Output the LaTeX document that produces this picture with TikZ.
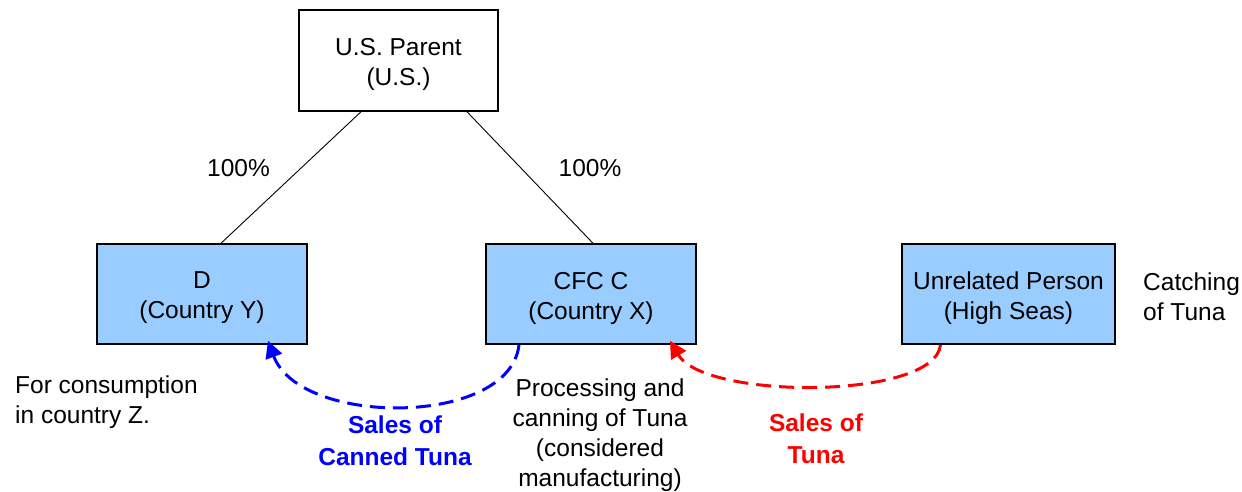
\documentclass[tikz,border=0pt]{standalone}
\usepackage{fontspec}
\setmainfont{Liberation Sans}
\usetikzlibrary{arrows.meta}
\definecolor{boxblue}{HTML}{99CCFF}
\tikzset{
  x=1pt, y=-1pt,
  every node/.style={font=\fontsize{24.5}{30}\selectfont, inner sep=0pt},
  entity/.style={draw=black, line width=1.5pt},
  boxtext/.style={align=center, yshift=-4pt},
  sub/.style={entity, fill=boxblue, minimum height=100pt},
  own/.style={draw=black, line width=0.9pt},
  lbl/.style={align=center},
  note/.style={align=left, anchor=west},
  flow/.style={line width=3pt, dash pattern=on 15pt off 8pt, -{Triangle[length=17pt,width=17pt]}},
  flowlbl/.style={align=center, font=\fontsize{24.5}{32}\selectfont\bfseries}
}
\begin{document}
\begin{tikzpicture}
\useasboundingbox (0,0) rectangle (1242,491);
\node[entity, minimum width=199pt, minimum height=101pt, label={[boxtext]center:U.S. Parent\\(U.S.)}] (parent) at (398.5,60.5) {};
\node[sub, minimum width=210pt, label={[boxtext]center:D\\(Country Y)}] (d) at (202,294) {};
\node[sub, minimum width=210pt, label={[boxtext]center:CFC C\\(Country X)}] (cfc) at (591,294) {};
\node[sub, minimum width=213pt, label={[boxtext]center:Unrelated Person\\(High Seas)}] (unrel) at (1008.5,294) {};

\coordinate (p1) at ([xshift=-37.5pt]parent.south);
\coordinate (p2) at ([xshift=68.5pt]parent.south);
\coordinate (d1) at ([xshift=19pt]d.north);
\coordinate (c1) at ([xshift=2pt]cfc.north);
\draw[own] (p1) -- (d1);
\draw[own] (p2) -- (c1);
\node[lbl] (pct1) at (238.5,168) {100\%};
\node[lbl] (pct2) at (590,168) {100\%};

\node[note] (catch) at (1143,297) {Catching\\of Tuna};
\node[note] (cons) at (15,402) {For consumption\\in country Z.};
\node[lbl] (proc) at (600,435) {Processing and\\canning of Tuna\\(considered\\manufacturing)};

\coordinate (bs) at ([xshift=-72pt]cfc.south);
\coordinate (be) at ([xshift=66pt,yshift=4pt]d.south);
\draw[flow, blue] (bs) .. controls (510,427) and (300,427) .. (be);
\coordinate (rs) at ([xshift=-68pt]unrel.south);
\coordinate (re) at ([xshift=79pt,yshift=4pt]cfc.south);
\draw[flow, red] (rs) .. controls (935,400) and (705,400) .. (re);

\node[flowlbl, text=blue] (salesc) at (395,441) {Sales of\\Canned Tuna};
\node[flowlbl, text=red] (salest) at (816,439) {Sales of\\Tuna};
\end{tikzpicture}
\end{document}
